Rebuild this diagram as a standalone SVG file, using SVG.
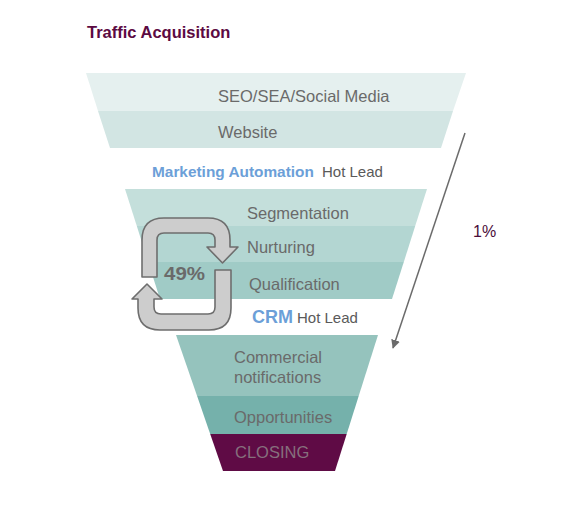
<svg xmlns="http://www.w3.org/2000/svg" width="579" height="517" viewBox="0 0 579 517">
<defs>
<style>
.t{font-family:"Liberation Sans",Arial,sans-serif;font-size:16.5px;fill:#6a6a6a}
.h{font-family:"Liberation Sans",Arial,sans-serif;font-weight:bold;fill:#6c9fd8;font-size:15.4px}
.hl{font-family:"Liberation Sans",Arial,sans-serif;fill:#5a5a5a;font-size:15px}
.loop{fill:#cdcdcd;stroke:#6e6e6e;stroke-width:1.6;stroke-linejoin:round}
</style>
<marker id="ah" viewBox="0 0 10 10" refX="9" refY="5" markerWidth="9" markerHeight="9" markerUnits="userSpaceOnUse" orient="auto">
<path d="M0,0 L10,5 L0,10 Z" fill="#6b6b6b"/>
</marker>
</defs>
<rect width="579" height="517" fill="#ffffff"/>
<text x="87" y="38" font-family="Liberation Sans, Arial, sans-serif" font-weight="bold" font-size="16.5" fill="#5c0a42">Traffic Acquisition</text>

<g id="seo">
<polygon points="86,73 466,73 453,111 98,111" fill="#e5f0ef"/>
<text class="t" x="218" y="102">SEO/SEA/Social Media</text>
</g>
<g id="website">
<polygon points="98,111 453,111 441,148 110,148" fill="#d2e5e3"/>
<text class="t" x="218" y="138">Website</text>
</g>
<g id="ma-label">
<text class="h" x="152" y="177">Marketing Automation</text>
<text class="hl" x="322" y="177">Hot Lead</text>
</g>
<g id="segmentation">
<polygon points="125,189 427,189 415.2,226 136.8,226" fill="#c4dfdb"/>
<text class="t" x="247" y="219">Segmentation</text>
</g>
<g id="nurturing">
<polygon points="136.8,226 415.2,226 403.8,262 148.2,262" fill="#b3d6d2"/>
<text class="t" x="247" y="253">Nurturing</text>
</g>
<g id="qualification">
<polygon points="148.2,262 403.8,262 392,299 160,299" fill="#a0cbc6"/>
<text class="t" x="249" y="290">Qualification</text>
</g>
<g id="crm-label">
<text class="h" x="252" y="323" style="font-size:18px">CRM</text>
<text class="hl" x="297" y="323">Hot Lead</text>
</g>
<g id="commercial">
<polygon points="176,335 378,335 358.7,396 197.1,396" fill="#95c3bd"/>
<text class="t" x="234" y="363">Commercial</text>
<text class="t" x="234" y="383">notifications</text>
</g>
<g id="opportunities">
<polygon points="197.1,396 358.7,396 346.7,434 210.2,434" fill="#75b1ab"/>
<text class="t" x="234" y="423">Opportunities</text>
</g>
<g id="closing">
<polygon points="210.2,434 346.7,434 335,471 223,471" fill="#5f0b45"/>
<text class="t" x="235" y="458" style="fill:#86707d">CLOSING</text>
</g>

<g id="loop">
<path class="loop" d="M142,277 L142,240 Q142,218 164,218 L208,218 Q230,218 230,240 L230,247 L238,247 L222.5,263 L207,247 L215,247 L215,240 Q215,233 208,233 L164,233 Q157,233 157,240 L157,277 Z"/>
<path class="loop" d="M231,270 L231,308 Q231,330 209,330 L160,330 Q138,330 138,308 L138,299 L132,299 L147,284 L162,299 L154,299 L154,307 Q154,314 161,314 L208,314 Q215,314 215,307 L215,270 Z"/>
<text x="164" y="280" font-family="Liberation Sans, Arial, sans-serif" font-weight="bold" font-size="19" fill="#6a6a6a" textLength="41" lengthAdjust="spacingAndGlyphs">49%</text>
</g>

<g id="connectors">
<line x1="465" y1="133" x2="393" y2="348" stroke="#6b6b6b" stroke-width="1.5" marker-end="url(#ah)"/>
</g>
<text x="473" y="237" font-family="Liberation Sans, Arial, sans-serif" font-size="16" fill="#4b0d3a">1%</text>
</svg>
